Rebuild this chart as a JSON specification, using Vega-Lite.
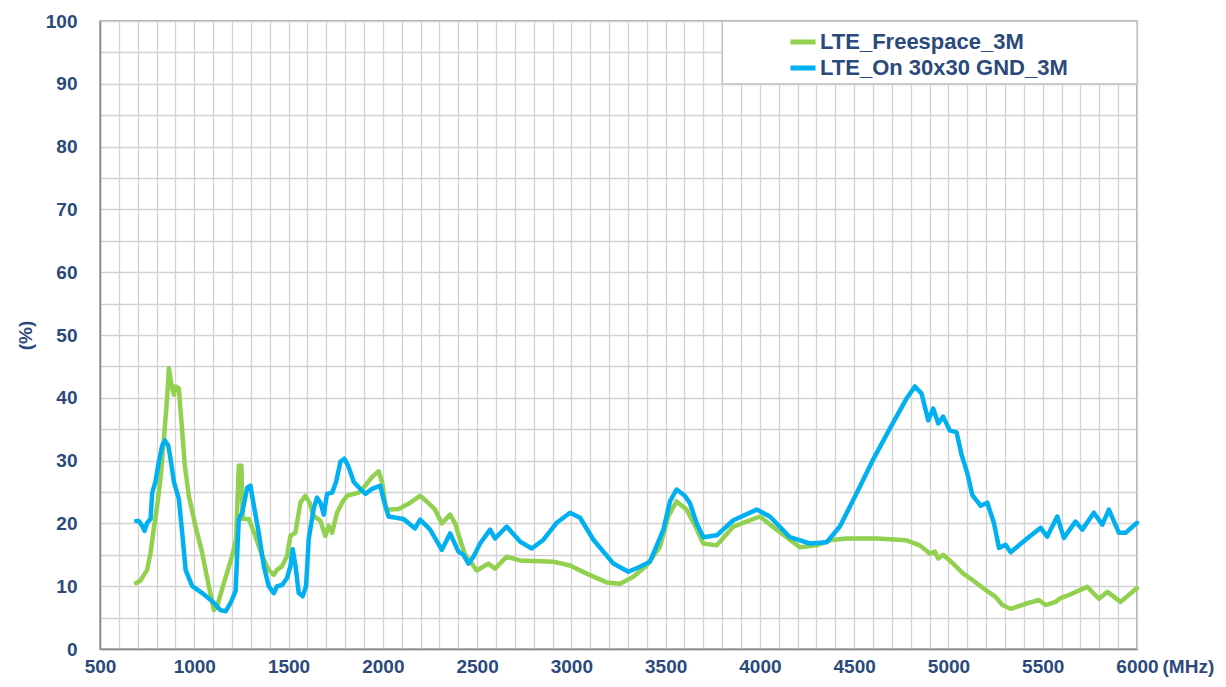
{
  "$schema": "https://vega.github.io/schema/vega-lite/v6.json",
  "width": 1037,
  "height": 628,
  "autosize": {"type": "none"},
  "padding": {"left": 100, "top": 21, "right": 89, "bottom": 38},
  "background": "white",
  "config": {
    "view": {"stroke": "#9a9a9a", "strokeWidth": 1.5},
    "font": "Liberation Sans"
  },
  "datasets": {
    "curves": [
      {"f": 692, "v": 10.5, "s": "LTE_Freespace_3M"},
      {"f": 715, "v": 10.9, "s": "LTE_Freespace_3M"},
      {"f": 733, "v": 11.8, "s": "LTE_Freespace_3M"},
      {"f": 750, "v": 12.6, "s": "LTE_Freespace_3M"},
      {"f": 768, "v": 15.3, "s": "LTE_Freespace_3M"},
      {"f": 785, "v": 19.1, "s": "LTE_Freespace_3M"},
      {"f": 803, "v": 22.8, "s": "LTE_Freespace_3M"},
      {"f": 821, "v": 27.1, "s": "LTE_Freespace_3M"},
      {"f": 839, "v": 33.5, "s": "LTE_Freespace_3M"},
      {"f": 856, "v": 39.9, "s": "LTE_Freespace_3M"},
      {"f": 865, "v": 44.7, "s": "LTE_Freespace_3M"},
      {"f": 879, "v": 42.1, "s": "LTE_Freespace_3M"},
      {"f": 892, "v": 40.5, "s": "LTE_Freespace_3M"},
      {"f": 901, "v": 41.8, "s": "LTE_Freespace_3M"},
      {"f": 918, "v": 41.5, "s": "LTE_Freespace_3M"},
      {"f": 932, "v": 36.2, "s": "LTE_Freespace_3M"},
      {"f": 950, "v": 29.2, "s": "LTE_Freespace_3M"},
      {"f": 971, "v": 24.4, "s": "LTE_Freespace_3M"},
      {"f": 1006, "v": 19.6, "s": "LTE_Freespace_3M"},
      {"f": 1042, "v": 15.3, "s": "LTE_Freespace_3M"},
      {"f": 1077, "v": 10.0, "s": "LTE_Freespace_3M"},
      {"f": 1104, "v": 6.2, "s": "LTE_Freespace_3M"},
      {"f": 1121, "v": 6.8, "s": "LTE_Freespace_3M"},
      {"f": 1157, "v": 10.5, "s": "LTE_Freespace_3M"},
      {"f": 1201, "v": 14.8, "s": "LTE_Freespace_3M"},
      {"f": 1222, "v": 17.5, "s": "LTE_Freespace_3M"},
      {"f": 1236, "v": 29.2, "s": "LTE_Freespace_3M"},
      {"f": 1245, "v": 26.0, "s": "LTE_Freespace_3M"},
      {"f": 1250, "v": 29.2, "s": "LTE_Freespace_3M"},
      {"f": 1257, "v": 20.7, "s": "LTE_Freespace_3M"},
      {"f": 1289, "v": 20.7, "s": "LTE_Freespace_3M"},
      {"f": 1324, "v": 18.0, "s": "LTE_Freespace_3M"},
      {"f": 1360, "v": 14.8, "s": "LTE_Freespace_3M"},
      {"f": 1395, "v": 12.6, "s": "LTE_Freespace_3M"},
      {"f": 1422, "v": 11.8, "s": "LTE_Freespace_3M"},
      {"f": 1439, "v": 12.6, "s": "LTE_Freespace_3M"},
      {"f": 1466, "v": 13.2, "s": "LTE_Freespace_3M"},
      {"f": 1492, "v": 14.8, "s": "LTE_Freespace_3M"},
      {"f": 1510, "v": 18.0, "s": "LTE_Freespace_3M"},
      {"f": 1536, "v": 18.5, "s": "LTE_Freespace_3M"},
      {"f": 1563, "v": 23.3, "s": "LTE_Freespace_3M"},
      {"f": 1589, "v": 24.4, "s": "LTE_Freespace_3M"},
      {"f": 1611, "v": 23.3, "s": "LTE_Freespace_3M"},
      {"f": 1633, "v": 21.2, "s": "LTE_Freespace_3M"},
      {"f": 1669, "v": 20.4, "s": "LTE_Freespace_3M"},
      {"f": 1695, "v": 18.0, "s": "LTE_Freespace_3M"},
      {"f": 1713, "v": 19.6, "s": "LTE_Freespace_3M"},
      {"f": 1731, "v": 18.5, "s": "LTE_Freespace_3M"},
      {"f": 1757, "v": 21.7, "s": "LTE_Freespace_3M"},
      {"f": 1784, "v": 23.3, "s": "LTE_Freespace_3M"},
      {"f": 1810, "v": 24.4, "s": "LTE_Freespace_3M"},
      {"f": 1846, "v": 24.7, "s": "LTE_Freespace_3M"},
      {"f": 1872, "v": 24.9, "s": "LTE_Freespace_3M"},
      {"f": 1907, "v": 26.0, "s": "LTE_Freespace_3M"},
      {"f": 1943, "v": 27.4, "s": "LTE_Freespace_3M"},
      {"f": 1978, "v": 28.3, "s": "LTE_Freespace_3M"},
      {"f": 1996, "v": 26.6, "s": "LTE_Freespace_3M"},
      {"f": 2017, "v": 22.3, "s": "LTE_Freespace_3M"},
      {"f": 2030, "v": 22.2, "s": "LTE_Freespace_3M"},
      {"f": 2084, "v": 22.3, "s": "LTE_Freespace_3M"},
      {"f": 2146, "v": 23.3, "s": "LTE_Freespace_3M"},
      {"f": 2198, "v": 24.4, "s": "LTE_Freespace_3M"},
      {"f": 2233, "v": 23.5, "s": "LTE_Freespace_3M"},
      {"f": 2277, "v": 22.2, "s": "LTE_Freespace_3M"},
      {"f": 2313, "v": 20.0, "s": "LTE_Freespace_3M"},
      {"f": 2357, "v": 21.4, "s": "LTE_Freespace_3M"},
      {"f": 2383, "v": 20.0, "s": "LTE_Freespace_3M"},
      {"f": 2410, "v": 17.4, "s": "LTE_Freespace_3M"},
      {"f": 2436, "v": 15.0, "s": "LTE_Freespace_3M"},
      {"f": 2472, "v": 13.6, "s": "LTE_Freespace_3M"},
      {"f": 2498, "v": 12.5, "s": "LTE_Freespace_3M"},
      {"f": 2560, "v": 13.6, "s": "LTE_Freespace_3M"},
      {"f": 2595, "v": 12.8, "s": "LTE_Freespace_3M"},
      {"f": 2657, "v": 14.7, "s": "LTE_Freespace_3M"},
      {"f": 2728, "v": 14.1, "s": "LTE_Freespace_3M"},
      {"f": 2905, "v": 13.9, "s": "LTE_Freespace_3M"},
      {"f": 2993, "v": 13.3, "s": "LTE_Freespace_3M"},
      {"f": 3081, "v": 12.0, "s": "LTE_Freespace_3M"},
      {"f": 3187, "v": 10.6, "s": "LTE_Freespace_3M"},
      {"f": 3258, "v": 10.4, "s": "LTE_Freespace_3M"},
      {"f": 3329, "v": 11.5, "s": "LTE_Freespace_3M"},
      {"f": 3399, "v": 13.3, "s": "LTE_Freespace_3M"},
      {"f": 3470, "v": 16.3, "s": "LTE_Freespace_3M"},
      {"f": 3514, "v": 21.1, "s": "LTE_Freespace_3M"},
      {"f": 3558, "v": 23.5, "s": "LTE_Freespace_3M"},
      {"f": 3611, "v": 22.2, "s": "LTE_Freespace_3M"},
      {"f": 3650, "v": 20.0, "s": "LTE_Freespace_3M"},
      {"f": 3700, "v": 16.8, "s": "LTE_Freespace_3M"},
      {"f": 3771, "v": 16.5, "s": "LTE_Freespace_3M"},
      {"f": 3859, "v": 19.5, "s": "LTE_Freespace_3M"},
      {"f": 4000, "v": 21.1, "s": "LTE_Freespace_3M"},
      {"f": 4089, "v": 19.0, "s": "LTE_Freespace_3M"},
      {"f": 4212, "v": 16.2, "s": "LTE_Freespace_3M"},
      {"f": 4300, "v": 16.5, "s": "LTE_Freespace_3M"},
      {"f": 4371, "v": 17.3, "s": "LTE_Freespace_3M"},
      {"f": 4459, "v": 17.6, "s": "LTE_Freespace_3M"},
      {"f": 4619, "v": 17.6, "s": "LTE_Freespace_3M"},
      {"f": 4778, "v": 17.3, "s": "LTE_Freespace_3M"},
      {"f": 4848, "v": 16.5, "s": "LTE_Freespace_3M"},
      {"f": 4901, "v": 15.2, "s": "LTE_Freespace_3M"},
      {"f": 4928, "v": 15.5, "s": "LTE_Freespace_3M"},
      {"f": 4946, "v": 14.4, "s": "LTE_Freespace_3M"},
      {"f": 4972, "v": 15.0, "s": "LTE_Freespace_3M"},
      {"f": 5025, "v": 13.6, "s": "LTE_Freespace_3M"},
      {"f": 5078, "v": 12.0, "s": "LTE_Freespace_3M"},
      {"f": 5127, "v": 11.0, "s": "LTE_Freespace_3M"},
      {"f": 5197, "v": 9.4, "s": "LTE_Freespace_3M"},
      {"f": 5250, "v": 8.3, "s": "LTE_Freespace_3M"},
      {"f": 5286, "v": 7.0, "s": "LTE_Freespace_3M"},
      {"f": 5330, "v": 6.4, "s": "LTE_Freespace_3M"},
      {"f": 5409, "v": 7.2, "s": "LTE_Freespace_3M"},
      {"f": 5480, "v": 7.8, "s": "LTE_Freespace_3M"},
      {"f": 5515, "v": 7.0, "s": "LTE_Freespace_3M"},
      {"f": 5568, "v": 7.5, "s": "LTE_Freespace_3M"},
      {"f": 5595, "v": 8.1, "s": "LTE_Freespace_3M"},
      {"f": 5639, "v": 8.6, "s": "LTE_Freespace_3M"},
      {"f": 5736, "v": 9.9, "s": "LTE_Freespace_3M"},
      {"f": 5798, "v": 8.0, "s": "LTE_Freespace_3M"},
      {"f": 5843, "v": 9.1, "s": "LTE_Freespace_3M"},
      {"f": 5913, "v": 7.5, "s": "LTE_Freespace_3M"},
      {"f": 6000, "v": 9.7, "s": "LTE_Freespace_3M"},

      {"f": 692, "v": 20.4, "s": "LTE_On 30x30 GND_3M"},
      {"f": 706, "v": 20.4, "s": "LTE_On 30x30 GND_3M"},
      {"f": 724, "v": 19.6, "s": "LTE_On 30x30 GND_3M"},
      {"f": 736, "v": 18.8, "s": "LTE_On 30x30 GND_3M"},
      {"f": 750, "v": 20.1, "s": "LTE_On 30x30 GND_3M"},
      {"f": 768, "v": 20.7, "s": "LTE_On 30x30 GND_3M"},
      {"f": 777, "v": 24.9, "s": "LTE_On 30x30 GND_3M"},
      {"f": 794, "v": 26.6, "s": "LTE_On 30x30 GND_3M"},
      {"f": 812, "v": 29.8, "s": "LTE_On 30x30 GND_3M"},
      {"f": 830, "v": 32.4, "s": "LTE_On 30x30 GND_3M"},
      {"f": 844, "v": 33.2, "s": "LTE_On 30x30 GND_3M"},
      {"f": 862, "v": 32.4, "s": "LTE_On 30x30 GND_3M"},
      {"f": 874, "v": 30.3, "s": "LTE_On 30x30 GND_3M"},
      {"f": 892, "v": 26.6, "s": "LTE_On 30x30 GND_3M"},
      {"f": 918, "v": 23.9, "s": "LTE_On 30x30 GND_3M"},
      {"f": 936, "v": 18.5, "s": "LTE_On 30x30 GND_3M"},
      {"f": 954, "v": 12.6, "s": "LTE_On 30x30 GND_3M"},
      {"f": 989, "v": 10.0, "s": "LTE_On 30x30 GND_3M"},
      {"f": 1042, "v": 8.9, "s": "LTE_On 30x30 GND_3M"},
      {"f": 1095, "v": 7.6, "s": "LTE_On 30x30 GND_3M"},
      {"f": 1139, "v": 6.2, "s": "LTE_On 30x30 GND_3M"},
      {"f": 1166, "v": 6.0, "s": "LTE_On 30x30 GND_3M"},
      {"f": 1192, "v": 7.3, "s": "LTE_On 30x30 GND_3M"},
      {"f": 1219, "v": 9.2, "s": "LTE_On 30x30 GND_3M"},
      {"f": 1236, "v": 20.7, "s": "LTE_On 30x30 GND_3M"},
      {"f": 1254, "v": 21.7, "s": "LTE_On 30x30 GND_3M"},
      {"f": 1281, "v": 25.7, "s": "LTE_On 30x30 GND_3M"},
      {"f": 1298, "v": 26.0, "s": "LTE_On 30x30 GND_3M"},
      {"f": 1316, "v": 22.8, "s": "LTE_On 30x30 GND_3M"},
      {"f": 1342, "v": 18.5, "s": "LTE_On 30x30 GND_3M"},
      {"f": 1369, "v": 13.2, "s": "LTE_On 30x30 GND_3M"},
      {"f": 1395, "v": 10.0, "s": "LTE_On 30x30 GND_3M"},
      {"f": 1422, "v": 8.9, "s": "LTE_On 30x30 GND_3M"},
      {"f": 1439, "v": 10.0, "s": "LTE_On 30x30 GND_3M"},
      {"f": 1466, "v": 10.2, "s": "LTE_On 30x30 GND_3M"},
      {"f": 1492, "v": 11.3, "s": "LTE_On 30x30 GND_3M"},
      {"f": 1510, "v": 13.2, "s": "LTE_On 30x30 GND_3M"},
      {"f": 1522, "v": 15.9, "s": "LTE_On 30x30 GND_3M"},
      {"f": 1537, "v": 13.2, "s": "LTE_On 30x30 GND_3M"},
      {"f": 1554, "v": 8.9, "s": "LTE_On 30x30 GND_3M"},
      {"f": 1575, "v": 8.4, "s": "LTE_On 30x30 GND_3M"},
      {"f": 1593, "v": 10.0, "s": "LTE_On 30x30 GND_3M"},
      {"f": 1607, "v": 17.5, "s": "LTE_On 30x30 GND_3M"},
      {"f": 1633, "v": 22.3, "s": "LTE_On 30x30 GND_3M"},
      {"f": 1651, "v": 24.1, "s": "LTE_On 30x30 GND_3M"},
      {"f": 1669, "v": 23.3, "s": "LTE_On 30x30 GND_3M"},
      {"f": 1687, "v": 21.4, "s": "LTE_On 30x30 GND_3M"},
      {"f": 1704, "v": 24.7, "s": "LTE_On 30x30 GND_3M"},
      {"f": 1731, "v": 24.9, "s": "LTE_On 30x30 GND_3M"},
      {"f": 1752, "v": 26.6, "s": "LTE_On 30x30 GND_3M"},
      {"f": 1775, "v": 29.8, "s": "LTE_On 30x30 GND_3M"},
      {"f": 1796, "v": 30.3, "s": "LTE_On 30x30 GND_3M"},
      {"f": 1816, "v": 29.2, "s": "LTE_On 30x30 GND_3M"},
      {"f": 1846, "v": 26.6, "s": "LTE_On 30x30 GND_3M"},
      {"f": 1890, "v": 25.2, "s": "LTE_On 30x30 GND_3M"},
      {"f": 1908, "v": 24.7, "s": "LTE_On 30x30 GND_3M"},
      {"f": 1943, "v": 25.5, "s": "LTE_On 30x30 GND_3M"},
      {"f": 1987, "v": 26.0, "s": "LTE_On 30x30 GND_3M"},
      {"f": 2004, "v": 23.8, "s": "LTE_On 30x30 GND_3M"},
      {"f": 2030, "v": 21.1, "s": "LTE_On 30x30 GND_3M"},
      {"f": 2110, "v": 20.7, "s": "LTE_On 30x30 GND_3M"},
      {"f": 2171, "v": 19.2, "s": "LTE_On 30x30 GND_3M"},
      {"f": 2198, "v": 20.6, "s": "LTE_On 30x30 GND_3M"},
      {"f": 2251, "v": 19.0, "s": "LTE_On 30x30 GND_3M"},
      {"f": 2313, "v": 15.8, "s": "LTE_On 30x30 GND_3M"},
      {"f": 2357, "v": 18.4, "s": "LTE_On 30x30 GND_3M"},
      {"f": 2401, "v": 15.5, "s": "LTE_On 30x30 GND_3M"},
      {"f": 2428, "v": 15.0, "s": "LTE_On 30x30 GND_3M"},
      {"f": 2454, "v": 13.6, "s": "LTE_On 30x30 GND_3M"},
      {"f": 2481, "v": 14.7, "s": "LTE_On 30x30 GND_3M"},
      {"f": 2516, "v": 16.8, "s": "LTE_On 30x30 GND_3M"},
      {"f": 2569, "v": 19.0, "s": "LTE_On 30x30 GND_3M"},
      {"f": 2595, "v": 17.6, "s": "LTE_On 30x30 GND_3M"},
      {"f": 2657, "v": 19.5, "s": "LTE_On 30x30 GND_3M"},
      {"f": 2728, "v": 17.1, "s": "LTE_On 30x30 GND_3M"},
      {"f": 2790, "v": 16.0, "s": "LTE_On 30x30 GND_3M"},
      {"f": 2852, "v": 17.4, "s": "LTE_On 30x30 GND_3M"},
      {"f": 2922, "v": 20.1, "s": "LTE_On 30x30 GND_3M"},
      {"f": 2993, "v": 21.7, "s": "LTE_On 30x30 GND_3M"},
      {"f": 3046, "v": 20.9, "s": "LTE_On 30x30 GND_3M"},
      {"f": 3117, "v": 17.4, "s": "LTE_On 30x30 GND_3M"},
      {"f": 3223, "v": 13.6, "s": "LTE_On 30x30 GND_3M"},
      {"f": 3302, "v": 12.3, "s": "LTE_On 30x30 GND_3M"},
      {"f": 3364, "v": 13.1, "s": "LTE_On 30x30 GND_3M"},
      {"f": 3417, "v": 13.9, "s": "LTE_On 30x30 GND_3M"},
      {"f": 3488, "v": 19.0, "s": "LTE_On 30x30 GND_3M"},
      {"f": 3523, "v": 23.5, "s": "LTE_On 30x30 GND_3M"},
      {"f": 3558, "v": 25.4, "s": "LTE_On 30x30 GND_3M"},
      {"f": 3602, "v": 24.4, "s": "LTE_On 30x30 GND_3M"},
      {"f": 3629, "v": 23.2, "s": "LTE_On 30x30 GND_3M"},
      {"f": 3665, "v": 20.0, "s": "LTE_On 30x30 GND_3M"},
      {"f": 3700, "v": 17.8, "s": "LTE_On 30x30 GND_3M"},
      {"f": 3771, "v": 18.1, "s": "LTE_On 30x30 GND_3M"},
      {"f": 3859, "v": 20.5, "s": "LTE_On 30x30 GND_3M"},
      {"f": 3983, "v": 22.2, "s": "LTE_On 30x30 GND_3M"},
      {"f": 4053, "v": 21.1, "s": "LTE_On 30x30 GND_3M"},
      {"f": 4159, "v": 17.8, "s": "LTE_On 30x30 GND_3M"},
      {"f": 4265, "v": 16.8, "s": "LTE_On 30x30 GND_3M"},
      {"f": 4354, "v": 17.0, "s": "LTE_On 30x30 GND_3M"},
      {"f": 4424, "v": 19.5, "s": "LTE_On 30x30 GND_3M"},
      {"f": 4513, "v": 24.8, "s": "LTE_On 30x30 GND_3M"},
      {"f": 4601, "v": 30.2, "s": "LTE_On 30x30 GND_3M"},
      {"f": 4689, "v": 35.1, "s": "LTE_On 30x30 GND_3M"},
      {"f": 4778, "v": 39.9, "s": "LTE_On 30x30 GND_3M"},
      {"f": 4822, "v": 41.8, "s": "LTE_On 30x30 GND_3M"},
      {"f": 4857, "v": 40.7, "s": "LTE_On 30x30 GND_3M"},
      {"f": 4893, "v": 36.4, "s": "LTE_On 30x30 GND_3M"},
      {"f": 4919, "v": 38.3, "s": "LTE_On 30x30 GND_3M"},
      {"f": 4946, "v": 35.9, "s": "LTE_On 30x30 GND_3M"},
      {"f": 4972, "v": 37.0, "s": "LTE_On 30x30 GND_3M"},
      {"f": 5007, "v": 34.8, "s": "LTE_On 30x30 GND_3M"},
      {"f": 5043, "v": 34.5, "s": "LTE_On 30x30 GND_3M"},
      {"f": 5069, "v": 31.0, "s": "LTE_On 30x30 GND_3M"},
      {"f": 5100, "v": 28.0, "s": "LTE_On 30x30 GND_3M"},
      {"f": 5127, "v": 24.5, "s": "LTE_On 30x30 GND_3M"},
      {"f": 5171, "v": 22.8, "s": "LTE_On 30x30 GND_3M"},
      {"f": 5206, "v": 23.3, "s": "LTE_On 30x30 GND_3M"},
      {"f": 5241, "v": 20.1, "s": "LTE_On 30x30 GND_3M"},
      {"f": 5268, "v": 16.1, "s": "LTE_On 30x30 GND_3M"},
      {"f": 5303, "v": 16.6, "s": "LTE_On 30x30 GND_3M"},
      {"f": 5330, "v": 15.4, "s": "LTE_On 30x30 GND_3M"},
      {"f": 5409, "v": 17.4, "s": "LTE_On 30x30 GND_3M"},
      {"f": 5489, "v": 19.3, "s": "LTE_On 30x30 GND_3M"},
      {"f": 5524, "v": 17.9, "s": "LTE_On 30x30 GND_3M"},
      {"f": 5577, "v": 21.1, "s": "LTE_On 30x30 GND_3M"},
      {"f": 5612, "v": 17.7, "s": "LTE_On 30x30 GND_3M"},
      {"f": 5674, "v": 20.3, "s": "LTE_On 30x30 GND_3M"},
      {"f": 5710, "v": 19.0, "s": "LTE_On 30x30 GND_3M"},
      {"f": 5771, "v": 21.7, "s": "LTE_On 30x30 GND_3M"},
      {"f": 5816, "v": 19.8, "s": "LTE_On 30x30 GND_3M"},
      {"f": 5851, "v": 22.2, "s": "LTE_On 30x30 GND_3M"},
      {"f": 5904, "v": 18.5, "s": "LTE_On 30x30 GND_3M"},
      {"f": 5939, "v": 18.5, "s": "LTE_On 30x30 GND_3M"},
      {"f": 6000, "v": 20.1, "s": "LTE_On 30x30 GND_3M"}
    ]
  },
  "layer": [
    {
      "data": {"values": [{"box": "legend"}]},
      "mark": {"type": "rect", "fill": "white", "stroke": "#bdbdbd", "strokeWidth": 1.3},
      "encoding": {
        "x": {
          "datum": 3800,
          "type": "quantitative",
          "scale": {"domain": [500, 6000], "nice": false, "zero": false},
          "axis": {
            "values": [500,600,700,800,900,1000,1100,1200,1300,1400,1500,1600,1700,1800,1900,2000,2100,2200,2300,2400,2500,2600,2700,2800,2900,3000,3100,3200,3300,3400,3500,3600,3700,3800,3900,4000,4100,4200,4300,4400,4500,4600,4700,4800,4900,5000,5100,5200,5300,5400,5500,5600,5700,5800,5900,6000],
            "labelExpr": "datum.value % 500 === 0 ? '' + datum.value : ''",
            "labelOverlap": false,
            "labelFlush": false,
            "labelFont": "Liberation Sans",
            "labelFontWeight": "bold",
            "labelFontSize": 19,
            "labelColor": "#2b4a7b",
            "labelPadding": 8,
            "ticks": false,
            "grid": true,
            "gridColor": "#d2d2d2",
            "gridWidth": 1.3,
            "domainColor": "#8a8a8a",
            "domainWidth": 1.5,
            "title": "(MHz)",
            "titleFont": "Liberation Sans",
            "titleFontWeight": "bold",
            "titleFontSize": 19,
            "titleColor": "#2b4a7b",
            "titleAlign": "left",
            "titleBaseline": "middle",
            "titleX": 1062,
            "titleY": 17
          }
        },
        "x2": {"datum": 6000},
        "y": {
          "datum": 90,
          "type": "quantitative",
          "scale": {"domain": [0, 100], "nice": false},
          "axis": {
            "values": [0,5,10,15,20,25,30,35,40,45,50,55,60,65,70,75,80,85,90,95,100],
            "labelExpr": "datum.value % 10 === 0 ? '' + datum.value : ''",
            "labelOverlap": false,
            "labelFlush": false,
            "labelFont": "Liberation Sans",
            "labelFontWeight": "bold",
            "labelFontSize": 19,
            "labelColor": "#2b4a7b",
            "labelPadding": 23,
            "ticks": false,
            "grid": true,
            "gridColor": "#d2d2d2",
            "gridWidth": 1.3,
            "domainColor": "#8a8a8a",
            "domainWidth": 1.5,
            "title": "(%)",
            "titleFont": "Liberation Sans",
            "titleFontWeight": "bold",
            "titleFontSize": 19,
            "titleColor": "#2b4a7b",
            "titleAngle": -90,
            "titleAlign": "center",
            "titleBaseline": "middle",
            "titleX": -75,
            "titleY": 314
          }
        },
        "y2": {"datum": 100}
      }
    },
    {
      "data": {"name": "curves"},
      "mark": {"type": "line", "strokeWidth": 4.5, "strokeJoin": "round", "strokeCap": "round"},
      "encoding": {
        "x": {
          "field": "f",
          "type": "quantitative",
          "scale": {"domain": [500, 6000], "nice": false, "zero": false},
          "axis": {
            "values": [500,600,700,800,900,1000,1100,1200,1300,1400,1500,1600,1700,1800,1900,2000,2100,2200,2300,2400,2500,2600,2700,2800,2900,3000,3100,3200,3300,3400,3500,3600,3700,3800,3900,4000,4100,4200,4300,4400,4500,4600,4700,4800,4900,5000,5100,5200,5300,5400,5500,5600,5700,5800,5900,6000],
            "labelExpr": "datum.value % 500 === 0 ? '' + datum.value : ''",
            "labelOverlap": false,
            "labelFlush": false,
            "labelFont": "Liberation Sans",
            "labelFontWeight": "bold",
            "labelFontSize": 19,
            "labelColor": "#2b4a7b",
            "labelPadding": 8,
            "ticks": false,
            "grid": true,
            "gridColor": "#d2d2d2",
            "gridWidth": 1.3,
            "domainColor": "#8a8a8a",
            "domainWidth": 1.5,
            "title": "(MHz)",
            "titleFont": "Liberation Sans",
            "titleFontWeight": "bold",
            "titleFontSize": 19,
            "titleColor": "#2b4a7b",
            "titleAlign": "left",
            "titleBaseline": "middle",
            "titleX": 1062,
            "titleY": 17
          }
        },
        "y": {
          "field": "v",
          "type": "quantitative",
          "scale": {"domain": [0, 100], "nice": false},
          "axis": {
            "values": [0,5,10,15,20,25,30,35,40,45,50,55,60,65,70,75,80,85,90,95,100],
            "labelExpr": "datum.value % 10 === 0 ? '' + datum.value : ''",
            "labelOverlap": false,
            "labelFlush": false,
            "labelFont": "Liberation Sans",
            "labelFontWeight": "bold",
            "labelFontSize": 19,
            "labelColor": "#2b4a7b",
            "labelPadding": 23,
            "ticks": false,
            "grid": true,
            "gridColor": "#d2d2d2",
            "gridWidth": 1.3,
            "domainColor": "#8a8a8a",
            "domainWidth": 1.5,
            "title": "(%)",
            "titleFont": "Liberation Sans",
            "titleFontWeight": "bold",
            "titleFontSize": 19,
            "titleColor": "#2b4a7b",
            "titleAngle": -90,
            "titleAlign": "center",
            "titleBaseline": "middle",
            "titleX": -75,
            "titleY": 314
          }
        },
        "color": {
          "field": "s",
          "type": "nominal",
          "scale": {
            "domain": ["LTE_Freespace_3M", "LTE_On 30x30 GND_3M"],
            "range": ["#92d050", "#00b0f0"]
          },
          "legend": {
            "title": null,
            "orient": "none",
            "legendX": 688,
            "legendY": 6,
            "padding": 0,
            "symbolType": "stroke",
            "symbolSize": 625,
            "symbolStrokeWidth": 5,
            "labelFont": "Liberation Sans",
            "labelFontWeight": "bold",
            "labelFontSize": 22,
            "labelLimit": 500,
            "labelColor": "#2b4a7b",
            "labelOffset": 2,
            "rowPadding": 0
          }
        }
      }
    }
  ]
}
